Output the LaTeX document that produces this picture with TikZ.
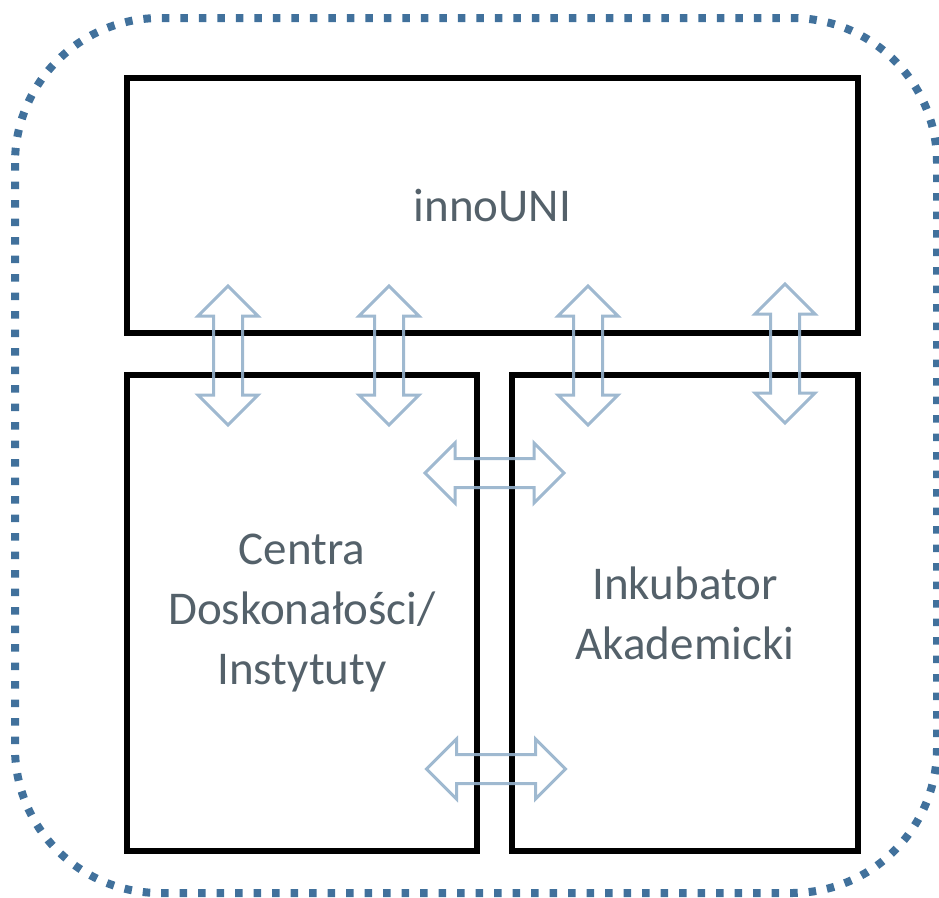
\documentclass[tikz,border=0pt]{standalone}
\usepackage{fontspec}
\setmainfont{Carlito}
\definecolor{framecol}{RGB}{65,113,156}
\definecolor{arrowcol}{RGB}{149,177,203}
\definecolor{textcol}{RGB}{84,97,106}
\begin{document}
\begin{tikzpicture}[x=1pt,y=-1pt,
  blockbox/.style={draw=black,line width=6pt,inner sep=0pt,text=textcol,align=center,
    font=\fontsize{47}{60}\selectfont},
  frameline/.style={draw=framecol,line width=8pt,dash pattern=on 7.5pt off 11pt,rounded corners=145pt},
  blockarrow/.style={draw=arrowcol,line width=3pt,draw opacity=0.9,line join=miter},
  dblarrow/.pic={\draw[blockarrow] (0,-69.5) -- (30,-39.5) -- (14.5,-39.5) -- (14.5,39.5) -- (30,39.5)
      -- (0,69.5) -- (-30,39.5) -- (-14.5,39.5) -- (-14.5,-39.5) -- (-30,-39.5) -- cycle;}
]
\useasboundingbox (0,0) rectangle (939,897);
\draw[frameline] (15,18) rectangle (937,893);
\node[blockbox,minimum width=731pt,minimum height=255pt] (inno) at (492.5,205.5) {innoUNI};
\node[blockbox,minimum width=350pt,minimum height=476pt] (centra) at (302,613) {Centra\\Doskonałości/\\Instytuty};
\node[blockbox,minimum width=346pt,minimum height=476pt] (inkub) at (685,613) {Inkubator\\Akademicki};
\pic at (228,355.5) {dblarrow};
\pic at (389,355.5) {dblarrow};
\pic at (588,355.5) {dblarrow};
\pic at (785,353.5) {dblarrow};
\pic[rotate=90] at (494.5,473) {dblarrow};
\pic[rotate=90] at (496,769) {dblarrow};
\end{tikzpicture}
\end{document}
